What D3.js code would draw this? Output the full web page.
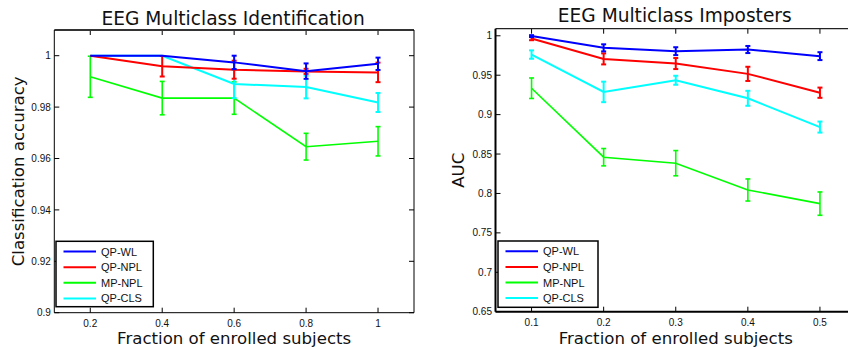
<!DOCTYPE html>
<html><head><meta charset="utf-8">
<script src="https://cdn.jsdelivr.net/npm/d3@7"></script>
<style>body{margin:0;background:#fff}svg{display:block}</style>
</head><body>
<svg id="c" width="848" height="349"></svg>
<script>
const seriesNames = ["QP-WL","QP-NPL","MP-NPL","QP-CLS"];
const seriesColors = ["#0000ff","#ff0000","#00ff00","#00ffff"];

// Left chart: EEG Multiclass Identification
const xLeft = [0.2,0.4,0.6,0.8,1.0];
const leftVals = {
  "QP-WL":  [1.0, 1.0, 0.9974, 0.9940, 0.99685],
  "QP-NPL": [1.0, 0.9959, 0.99455, 0.9939, 0.9935],
  "MP-NPL": [0.9918, 0.9835, 0.9835, 0.9646, 0.9667],
  "QP-CLS": [1.0, 1.0, 0.9890, 0.9878, 0.9818]
};
const leftErr = {
  "QP-WL":  [0, 0, 0.0026, 0.0030, 0.0024],
  "QP-NPL": [0, 0.0040, 0.0035, 0.0010, 0.0038],
  "MP-NPL": [0.0080, 0.0065, 0.0063, 0.0052, 0.0057],
  "QP-CLS": [0, 0, 0.0055, 0.0044, 0.0037]
};
const leftYTicks = [0.9,0.92,0.94,0.96,0.98,1];
const leftYLabels = ["0.9","0.92","0.94","0.96","0.98","1"];
const leftXTicks = [0.2,0.4,0.6,0.8,1];
const leftXLabels = ["0.2","0.4","0.6","0.8","1"];

// Right chart: EEG Multiclass Imposters
const xRight = [0.1,0.2,0.3,0.4,0.5];
const rightVals = {
  "QP-WL":  [0.9996, 0.9847, 0.9805, 0.9826, 0.9742],
  "QP-NPL": [0.9966, 0.9707, 0.9648, 0.9517, 0.9278],
  "MP-NPL": [0.9335, 0.8460, 0.8384, 0.8044, 0.7871],
  "QP-CLS": [0.9762, 0.9288, 0.9436, 0.9207, 0.8842]
};
const rightErr = {
  "QP-WL":  [0.0012, 0.0045, 0.0050, 0.0045, 0.0050],
  "QP-NPL": [0.0022, 0.0070, 0.0070, 0.0090, 0.0065],
  "MP-NPL": [0.0130, 0.0110, 0.0160, 0.0140, 0.0148],
  "QP-CLS": [0.0053, 0.0130, 0.0057, 0.0095, 0.0070]
};
const rightYTicks = [0.65,0.7,0.75,0.8,0.85,0.9,0.95,1];
const rightYLabels = ["0.65","0.7","0.75","0.8","0.85","0.9","0.95","1"];
const rightXTicks = [0.1,0.2,0.3,0.4,0.5];
const rightXLabels = ["0.1","0.2","0.3","0.4","0.5"];

const svg = d3.select("#c");
const drawOrder = ["MP-NPL","QP-CLS","QP-NPL","QP-WL"];

function panel(cfg){
  const g = svg.append("g");
  const x = d3.scaleLinear().domain(cfg.xDomain).range([cfg.left, cfg.right]);
  const y = d3.scaleLinear().domain(cfg.yDomain).range([cfg.bottom, cfg.top]);
  const tl = 5;
  cfg.xTicks.forEach((t,i)=>{
    g.append("line").attr("x1",x(t)).attr("x2",x(t)).attr("y1",cfg.bottom).attr("y2",cfg.bottom-tl).attr("stroke","#000").attr("stroke-width",1);
    g.append("line").attr("x1",x(t)).attr("x2",x(t)).attr("y1",cfg.top).attr("y2",cfg.top+tl).attr("stroke","#000").attr("stroke-width",1);
    g.append("text").attr("x",x(t)).attr("y",cfg.bottom+14).attr("text-anchor","middle")
      .attr("font-family","Liberation Sans, Arial, sans-serif").attr("font-size",10).attr("fill","#111").text(cfg.xLabels[i]);
  });
  cfg.yTicks.forEach((t,i)=>{
    g.append("line").attr("x1",cfg.left).attr("x2",cfg.left+tl).attr("y1",y(t)).attr("y2",y(t)).attr("stroke","#000").attr("stroke-width",1);
    g.append("line").attr("x1",cfg.right).attr("x2",cfg.right-tl).attr("y1",y(t)).attr("y2",y(t)).attr("stroke","#000").attr("stroke-width",1);
    g.append("text").attr("x",cfg.left-3.5).attr("y",y(t)+3.6).attr("text-anchor","end")
      .attr("font-family","Liberation Sans, Arial, sans-serif").attr("font-size",10).attr("fill","#111").text(cfg.yLabels[i]);
  });
  const line = d3.line().x(d=>x(d[0])).y(d=>y(d[1]));
  drawOrder.forEach(name=>{
    const si = seriesNames.indexOf(name);
    const col = seriesColors[si];
    const sw = name==="MP-NPL" ? 1.6 : 2;
    const pts = cfg.xs.map((xv,i)=>[xv, cfg.vals[name][i]]);
    g.append("path").attr("d",line(pts)).attr("fill","none").attr("stroke",col).attr("stroke-width",sw);
    pts.forEach((p,i)=>{
      const e = cfg.errs[name][i];
      if(e<=0) return;
      const cx = x(p[0]), y1 = y(p[1]+e), y2 = y(p[1]-e), cw = 2.5;
      g.append("line").attr("x1",cx).attr("x2",cx).attr("y1",y1).attr("y2",y2).attr("stroke",col).attr("stroke-width",sw);
      g.append("line").attr("x1",cx-cw).attr("x2",cx+cw).attr("y1",y1).attr("y2",y1).attr("stroke",col).attr("stroke-width",sw);
      g.append("line").attr("x1",cx-cw).attr("x2",cx+cw).attr("y1",y2).attr("y2",y2).attr("stroke",col).attr("stroke-width",sw);
    });
  });
  g.append("line").attr("x1",cfg.left).attr("x2",cfg.right).attr("y1",cfg.top).attr("y2",cfg.top).attr("stroke",cfg.topCol).attr("stroke-width",cfg.topW);
  g.append("line").attr("x1",cfg.left).attr("x2",cfg.right).attr("y1",cfg.bottom).attr("y2",cfg.bottom).attr("stroke","#000").attr("stroke-width",cfg.axW);
  g.append("line").attr("x1",cfg.left).attr("x2",cfg.left).attr("y1",cfg.top).attr("y2",cfg.bottom).attr("stroke","#000").attr("stroke-width",cfg.axW);
  g.append("line").attr("x1",cfg.right).attr("x2",cfg.right).attr("y1",cfg.top).attr("y2",cfg.bottom).attr("stroke","#000").attr("stroke-width",1);
  const cxm = (cfg.left+cfg.right)/2;
  g.append("text").attr("x",cxm-1).attr("y",cfg.titleY).attr("text-anchor","middle")
    .attr("font-family","DejaVu Sans, sans-serif").attr("font-size",18.6).attr("fill","#111").text(cfg.title);
  g.append("text").attr("x",cxm).attr("y",344).attr("text-anchor","middle")
    .attr("font-family","DejaVu Sans, sans-serif").attr("font-size",16.6).attr("fill","#111").text("Fraction of enrolled subjects");
  g.append("text").attr("transform",`translate(${cfg.yLabX},${(cfg.top+cfg.bottom)/2}) rotate(-90)`).attr("text-anchor","middle")
    .attr("font-family","DejaVu Sans, sans-serif").attr("font-size",16.6).attr("fill","#111").text(cfg.yTitle);
  const L = cfg.legend;
  g.append("rect").attr("x",L.x).attr("y",L.y).attr("width",L.w).attr("height",L.h).attr("fill","#fff").attr("stroke","#000").attr("stroke-width",1.5);
  seriesNames.forEach((n,i)=>{
    const yy = L.y + 10.3 + i*15.6;
    g.append("line").attr("x1",L.x+7.5).attr("x2",L.x+40).attr("y1",yy).attr("y2",yy).attr("stroke",seriesColors[i]).attr("stroke-width",2);
    g.append("text").attr("x",L.x+45).attr("y",yy+4).attr("font-family","Liberation Sans, Arial, sans-serif").attr("font-size",11).attr("fill","#111").text(n);
  });
}

panel({left:54.3,right:414,top:30,bottom:312.7,xDomain:[0.1,1.1],yDomain:[0.9,1.01],
  xs:xLeft,vals:leftVals,errs:leftErr,xTicks:leftXTicks,xLabels:leftXLabels,yTicks:leftYTicks,yLabels:leftYLabels,
  title:"EEG Multiclass Identification",titleY:25,yTitle:"Classification accuracy",yLabX:23.5,
  topCol:"#333",topW:2,axW:1,legend:{x:56,y:241.3,w:97.3,h:65.4}});
panel({left:495.5,right:856,top:28.7,bottom:311.7,xDomain:[0.05,0.55],yDomain:[0.65,1.009],
  xs:xRight,vals:rightVals,errs:rightErr,xTicks:rightXTicks,xLabels:rightXLabels,yTicks:rightYTicks,yLabels:rightYLabels,
  title:"EEG Multiclass Imposters",titleY:22,yTitle:"AUC",yLabX:464,
  topCol:"#222",topW:1.2,axW:2,legend:{x:498,y:241,w:100,h:66.3}});
</script>
</body></html>
